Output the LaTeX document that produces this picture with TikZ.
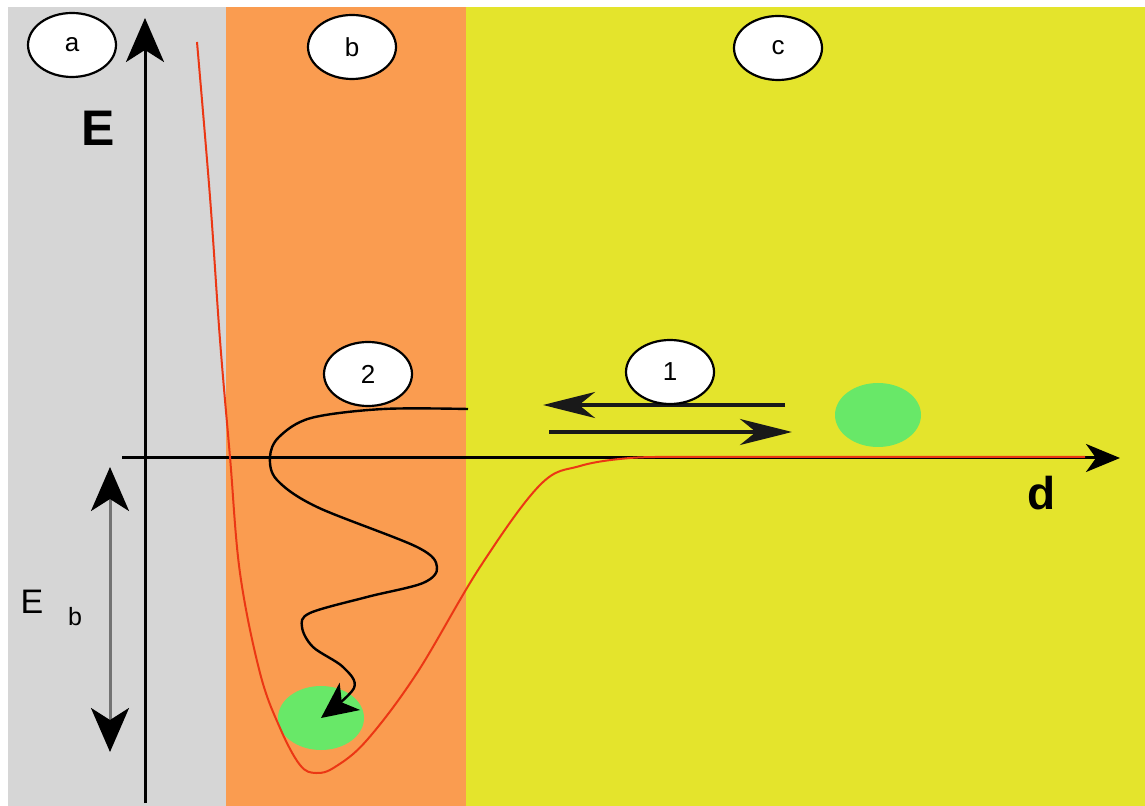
\documentclass[tikz,border=0pt]{standalone}
\usepackage{fontspec}
\setmainfont{Liberation Sans}
\usetikzlibrary{arrows.meta,positioning,shapes.geometric}
\definecolor{wallGray}{RGB}{214,214,214}
\definecolor{wellOrange}{RGB}{250,156,80}
\definecolor{farYellow}{RGB}{228,228,44}
\definecolor{atomGreen}{RGB}{104,232,104}
\definecolor{curveRed}{RGB}{235,55,20}
\tikzset{
  tag/.style={ellipse, draw=black, fill=white, line width=1.1pt, minimum width=44pt,
              minimum height=32pt, inner sep=0pt, font=\fontsize{13}{13}\selectfont},
  atom/.style={ellipse, fill=atomGreen, minimum width=43pt, minimum height=32pt, inner sep=0pt},
  bigletter/.style={font=\fontsize{25}{25}\selectfont\bfseries, inner sep=0pt},
  xaxis/.style={line width=1.5pt, -{Stealth[length=17pt, width=14pt, inset=5pt]}},
  yaxis/.style={line width=1.5pt, -{Stealth[length=22pt, width=19pt, inset=6pt]}},
  gap/.style={line width=1.5pt, draw=black!55, {Stealth[length=22pt, width=19pt, inset=6pt, black]}-{Stealth[length=22pt, width=19pt, inset=6pt, black]}},
  hop/.style={line width=2pt, draw=black!90, -{Stealth[length=26pt, width=13pt, inset=8pt]}},
  wave/.style={line width=1.2pt, -{Stealth[length=18pt, width=17pt, inset=5pt]}},
  curve/.style={line width=1pt, draw=curveRed}
}
\begin{document}
\begin{tikzpicture}[x=0.5pt, y=-0.5pt]
\useasboundingbox (0,0) rectangle (1145,806);
\fill[wallGray] (8,7) rectangle (226,806);
\fill[wellOrange] (226,7) rectangle (466,806);
\fill[farYellow] (466,7) rectangle (1145,806);
\node[atom] (free) at (878,415) {};
\node[atom] (bound) at (321,718) {};
\coordinate (eBot) at (145,803);
\coordinate (eTop) at (145,18);
\coordinate (dStart) at (122,458);
\coordinate (dEnd) at (1120,458);
\coordinate (ebTop) at (110,467);
\coordinate (ebBot) at (110,752);
\coordinate (outR) at (785,405);
\coordinate (outL) at (543,405);
\coordinate (inL) at (549,432);
\coordinate (inR) at (792,432);
\draw[yaxis] (eBot) -- (eTop);
\draw[xaxis] (dStart) -- (dEnd);
\draw[curve] plot[smooth, tension=0.6] coordinates {(197,42) (210,197) (220,340) (230,457)
  (240,573) (260,673) (280,728) (300,765) (316,773) (335,767) (367,740) (417,673) (480,567)
  (540,485) (580,466) (630,458) (680,457)} -- (1085,457);
\draw[wave] plot[smooth, tension=0.55] coordinates {(468,409) (383,409) (311,418) (279,437)
  (270,457) (277,480) (317,507) (417,547) (437,567) (423,583) (367,597) (310,613) (302,627)
  (313,647) (343,667) (354,688) (bound.center)};
\draw[gap] (ebTop) -- (ebBot);
\draw[hop] (outR) -- (outL);
\draw[hop] (inL) -- (inR);
\node[tag] (a) at (72,45) {a};
\node[tag] (b) at (352,47) {b};
\node[tag] (c) at (778,48) {c};
\node[tag] (two) at (368,374) {2};
\node[tag] (one) at (670,372) {1};
\node[bigletter] (E) at (98,128) {E};
\node[bigletter, font=\fontsize{23}{23}\selectfont\bfseries] (d) at (1042,493) {d};
\node[font=\fontsize{17}{17}\selectfont, inner sep=0pt] (Eb) at (32,602) {E};
\node[font=\fontsize{12.5}{12.5}\selectfont, inner sep=0pt] (Ebsub) at (75,617) {b};
\end{tikzpicture}
\end{document}
